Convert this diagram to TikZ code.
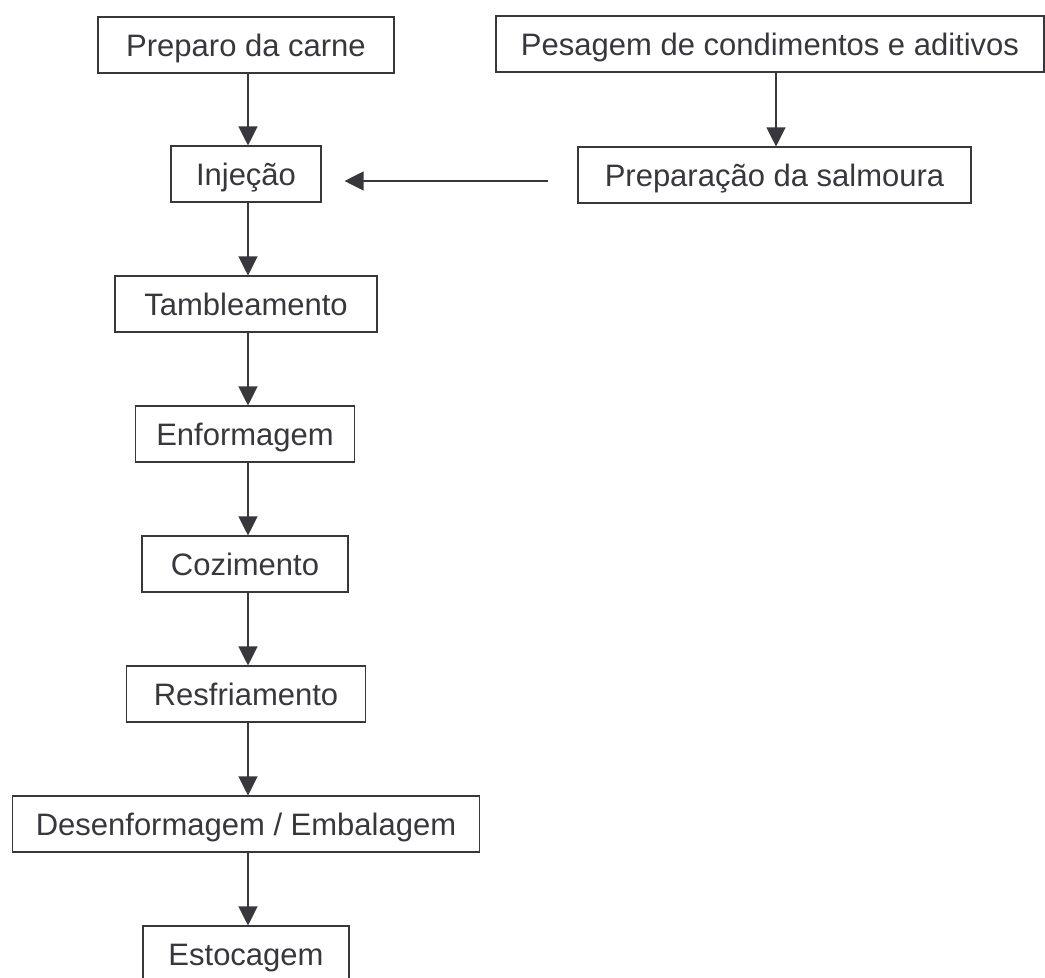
\documentclass[tikz,border=0pt]{standalone}
\usepackage{fontspec}
\setmainfont{Liberation Sans}
\usetikzlibrary{arrows.meta,calc}
\definecolor{ink}{RGB}{55,55,60}
\tikzset{
  stepbox/.style={draw=ink, line width=1.1pt, text=ink, inner sep=0pt,
    minimum height=56pt, text height=22pt, text depth=0pt,
    font=\fontsize{31pt}{36pt}\selectfont, anchor=center},
  arr/.style={draw=ink, line width=1.2pt, -{Triangle[length=19pt,width=19pt]}}
}
\begin{document}
\begin{tikzpicture}[x=1pt,y=-1pt]
\useasboundingbox (0,0) rectangle (1045,978);
\node[stepbox, minimum width=296pt] (prep) at (246,45) {Preparo da carne};
\node[stepbox, minimum width=548pt] (pes) at (770,44) {Pesagem de condimentos e aditivos};
\node[stepbox, minimum width=150pt] (inj) at (246,174) {Injeção};
\node[stepbox, minimum width=393pt] (sal) at (774.5,175) {Preparação da salmoura};
\node[stepbox, minimum width=262pt] (tamb) at (246,304) {Tambleamento};
\node[stepbox, minimum width=219pt] (enf) at (245,434) {Enformagem};
\node[stepbox, minimum width=206pt] (coz) at (245,564) {Cozimento};
\node[stepbox, minimum width=239pt] (resf) at (246,694) {Resfriamento};
\node[stepbox, minimum width=467pt] (des) at (246,824) {Desenformagem / Embalagem};
\node[stepbox, minimum width=206pt] (est) at (246,954) {Estocagem};

\draw[arr] ([xshift=2pt]prep.south) -- ([xshift=2pt]prep.south |- inj.north);
\draw[arr] ([xshift=2pt]inj.south) -- ([xshift=2pt]inj.south |- tamb.north);
\draw[arr] ([xshift=2pt]tamb.south) -- ([xshift=2pt]tamb.south |- enf.north);
\draw[arr] ([xshift=2pt]tamb.south |- enf.south) -- ([xshift=2pt]tamb.south |- coz.north);
\draw[arr] ([xshift=2pt]tamb.south |- coz.south) -- ([xshift=2pt]tamb.south |- resf.north);
\draw[arr] ([xshift=2pt]tamb.south |- resf.south) -- ([xshift=2pt]tamb.south |- des.north);
\draw[arr] ([xshift=2pt]tamb.south |- des.south) -- ([xshift=2pt]tamb.south |- est.north);
\draw[arr] ([xshift=1.5pt]sal.north |- pes.south) -- ([xshift=1.5pt]sal.north);
\draw[arr, shorten <=29pt, shorten >=23pt] ([yshift=-6pt]sal.west) -- ([yshift=-6pt]sal.west -| inj.east);
\end{tikzpicture}
\end{document}
